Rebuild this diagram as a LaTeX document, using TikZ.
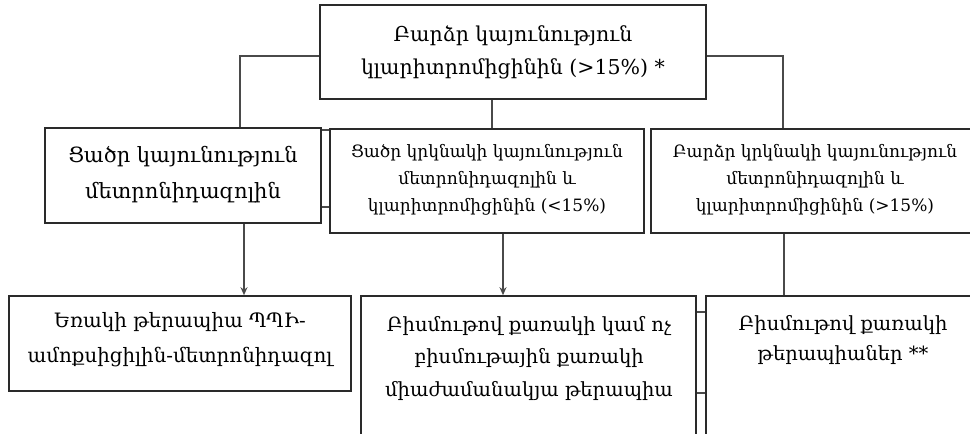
\documentclass[tikz,border=0pt]{standalone}
\usepackage{fontspec}
\newfontfamily\armfont[Script=Armenian]{DejaVu Serif}
\usetikzlibrary{arrows.meta}
\definecolor{boxline}{HTML}{2A2A2A}
\definecolor{conline}{HTML}{4A4A4A}
\tikzset{
  box/.style={draw=boxline, line width=1.6pt, rectangle, inner sep=0pt},
  txt/.style={align=center, text=black, inner sep=0pt},
  con/.style={draw=conline, line width=1.6pt},
  arr/.style={con, -{Stealth[length=8pt,width=7pt]}},
}
\begin{document}
\begin{tikzpicture}[x=1pt,y=-1pt]
\useasboundingbox[fill=white] (0,0) rectangle (970,434);
% top box
\node[box, minimum width=386pt, minimum height=94pt] (top) at (513,52) {};
\node[txt, font=\armfont\fontsize{20.5}{33}\selectfont] (toptext) at (513,52) {Բարձր կայունություն\\կլարիտրոմիցինին (>15\%) *};
% middle row
\node[box, minimum width=276pt, minimum height=95pt] (m1) at (183,175.5) {};
\node[txt, font=\armfont\fontsize{21}{36}\selectfont] (m1text) at (183,175) {Ցածր կայունություն\\մետրոնիդազոլին};
\node[box, minimum width=314pt, minimum height=104pt] (m2) at (487,181) {};
\node[txt, font=\armfont\fontsize{17}{27}\selectfont] (m2text) at (487,180) {Ցածր կրկնակի կայունություն\\մետրոնիդազոլին և\\կլարիտրոմիցինին (<15\%)};
\node[box, minimum width=330pt, minimum height=104pt] (m3) at (816,181) {};
\node[txt, font=\armfont\fontsize{17}{27}\selectfont] (m3text) at (815,180) {Բարձր կրկնակի կայունություն\\մետրոնիդազոլին և\\կլարիտրոմիցինին (>15\%)};
% bottom row
\node[box, minimum width=342pt, minimum height=95pt] (b1) at (180,343.5) {};
\node[txt, font=\armfont\fontsize{19.8}{35}\selectfont] (b1text) at (180,340) {Եռակի թերապիա ՊՊԻ-\\ամոքսիցիլին-մետրոնիդազոլ};
\node[box, minimum width=335pt, minimum height=150pt] (b2) at (528.5,371) {};
\node[txt, font=\armfont\fontsize{19.5}{32.5}\selectfont] (b2text) at (529,358) {Բիսմութով քառակի կամ ոչ\\բիսմութային քառակի\\միաժամանակյա թերապիա};
\node[txt, font=\armfont\fontsize{19.5}{30}\selectfont] (b3text) at (843,340) {Բիսմութով քառակի\\թերապիաներ **};
\node[box, minimum width=274pt, minimum height=150pt] (b3) at (843,371) {};
% connectors from top box
\coordinate (tl) at (240,56);
\coordinate (tr) at (783,56);
\draw[con] (top.west |- tl) -- (tl) -- (tl |- m1.north);
\draw[con] (top.east |- tr) -- (tr) -- (tr |- m3.north);
\draw[con] (492,0 |- top.south) -- (492,0 |- m2.north);
% arrows to bottom
\draw[arr] (244,0 |- m1.south) -- (244,0 |- b1.north);
\draw[arr] (503,0 |- m2.south) -- (503,0 |- b2.north);
\draw[con] (784,0 |- m3.south) -- (784,0 |- b3.north);
% small bridges
\draw[con, line width=1.3pt] (m1.east |- 0,130) -- (m2.west |- 0,130);
\draw[con, line width=1.3pt] (m1.east |- 0,207) -- (m2.west |- 0,207);
\draw[con, line width=1.3pt] (b2.east |- 0,312) -- (b3.west |- 0,312);
\draw[con, line width=1.3pt] (b2.east |- 0,393) -- (b3.west |- 0,393);
\end{tikzpicture}
\end{document}
